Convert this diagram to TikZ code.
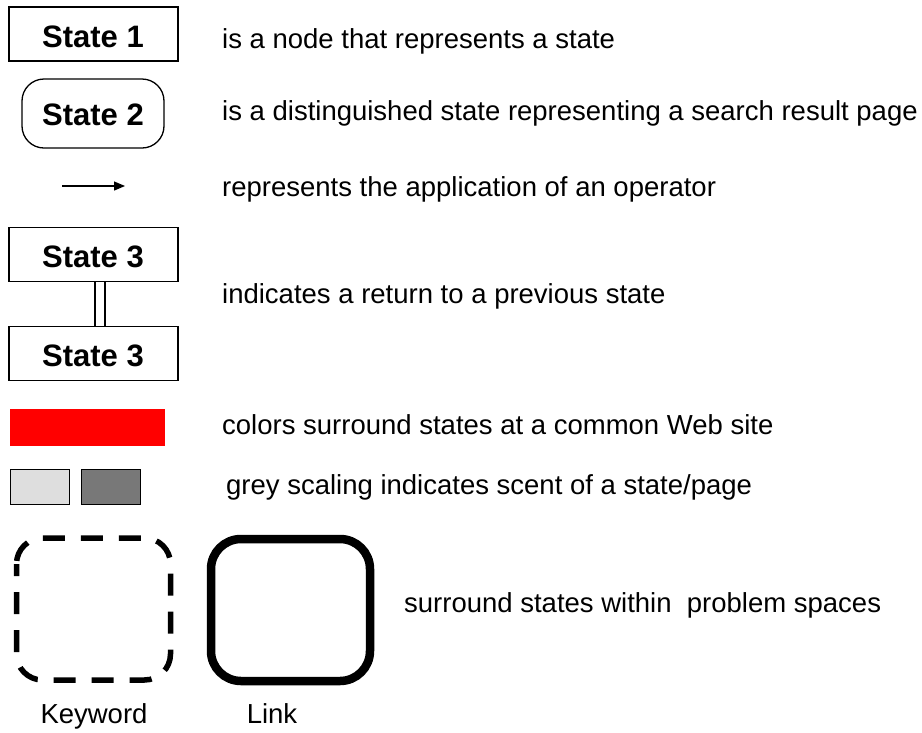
\documentclass[tikz,border=0pt]{standalone}
\usepackage{fontspec}
\setmainfont{Liberation Sans}
\usetikzlibrary{arrows.meta}
\begin{document}
\begin{tikzpicture}[x=1pt,y=-1pt,
  statebox/.style={draw, line width=1.3pt, minimum width=169pt, minimum height=54pt,
    inner sep=0pt, font=\fontsize{31}{34}\selectfont\bfseries, text depth=0pt},
  statetext/.style={anchor=base, inner sep=0pt, font=\fontsize{31}{34}\selectfont\bfseries},
  resultbox/.style={draw, line width=1.3pt, rounded corners=22pt, minimum width=142pt,
    minimum height=69pt, inner sep=0pt},
  plainbox/.style={draw, line width=1.3pt, minimum width=169pt, minimum height=54pt, inner sep=0pt},
  legend/.style={anchor=base west, inner sep=0pt, font=\fontsize{27.5}{32}\selectfont},
  caption/.style={anchor=base, inner sep=0pt, font=\fontsize{27.5}{32}\selectfont},
  swatch/.style={draw=black, line width=1.5pt, minimum width=59pt, minimum height=35pt, inner sep=0pt},
  operator/.style={line width=1.3pt, -{Triangle[length=11pt,width=9pt]}}]
  \useasboundingbox (0,0) rectangle (922,732);

  % state symbols
  \node[plainbox] (s1) at (93.5,34) {};
  \node[statetext] (s1t) at (93,47) {State 1};
  \node[resultbox] (s2) at (93,113.5) {};
  \node[statetext] (s2t) at (93,125) {State 2};
  \coordinate (opA) at (62,186);
  \coordinate (opB) at (125,186);
  \draw[operator] (opA) -- (opB);
  \node[plainbox] (s3a) at (93.5,254.5) {};
  \node[statetext] (s3at) at (93,267) {State 3};
  \node[plainbox] (s3b) at (93.5,353.5) {};
  \node[statetext] (s3bt) at (93,366) {State 3};
  \draw[line width=1.8pt, double, double distance=8.5pt]
    ([xshift=6.5pt]s3a.south) -- ([xshift=6.5pt]s3b.north);

  % colour swatches
  \node[fill=red, minimum width=155pt, minimum height=37pt, inner sep=0pt] (site) at (87.5,427.5) {};
  \node[swatch, fill=black!13] (scentlo) at (40,487) {};
  \node[swatch, fill=black!53] (scenthi) at (111,487) {};

  % problem space frames
  \draw[line width=5.5pt, rounded corners=26pt, dash pattern=on 22pt off 16pt, dash phase=10pt]
    (16.5,538) rectangle (170.5,680);
  \draw[line width=8.5pt, rounded corners=30pt] (211,539) rectangle (370,681);

  % legend texts
  \node[legend] (t1) at (222,48) {is a node that represents a state};
  \node[legend] (t2) at (222,120) {is a distinguished state representing a search result page};
  \node[legend] (t3) at (222,196) {represents the application of an operator};
  \node[legend] (t4) at (222,303) {indicates a return to a previous state};
  \node[legend] (t5) at (222,434) {colors surround states at a common Web site};
  \node[legend] (t6) at (226,494) {grey scaling indicates scent of a state/page};
  \node[legend] (t7) at (404,612) {surround states within\ \ problem spaces};
  \node[caption] (kw) at (94,723) {Keyword};
  \node[caption] (lk) at (272,723) {Link};
\end{tikzpicture}
\end{document}
